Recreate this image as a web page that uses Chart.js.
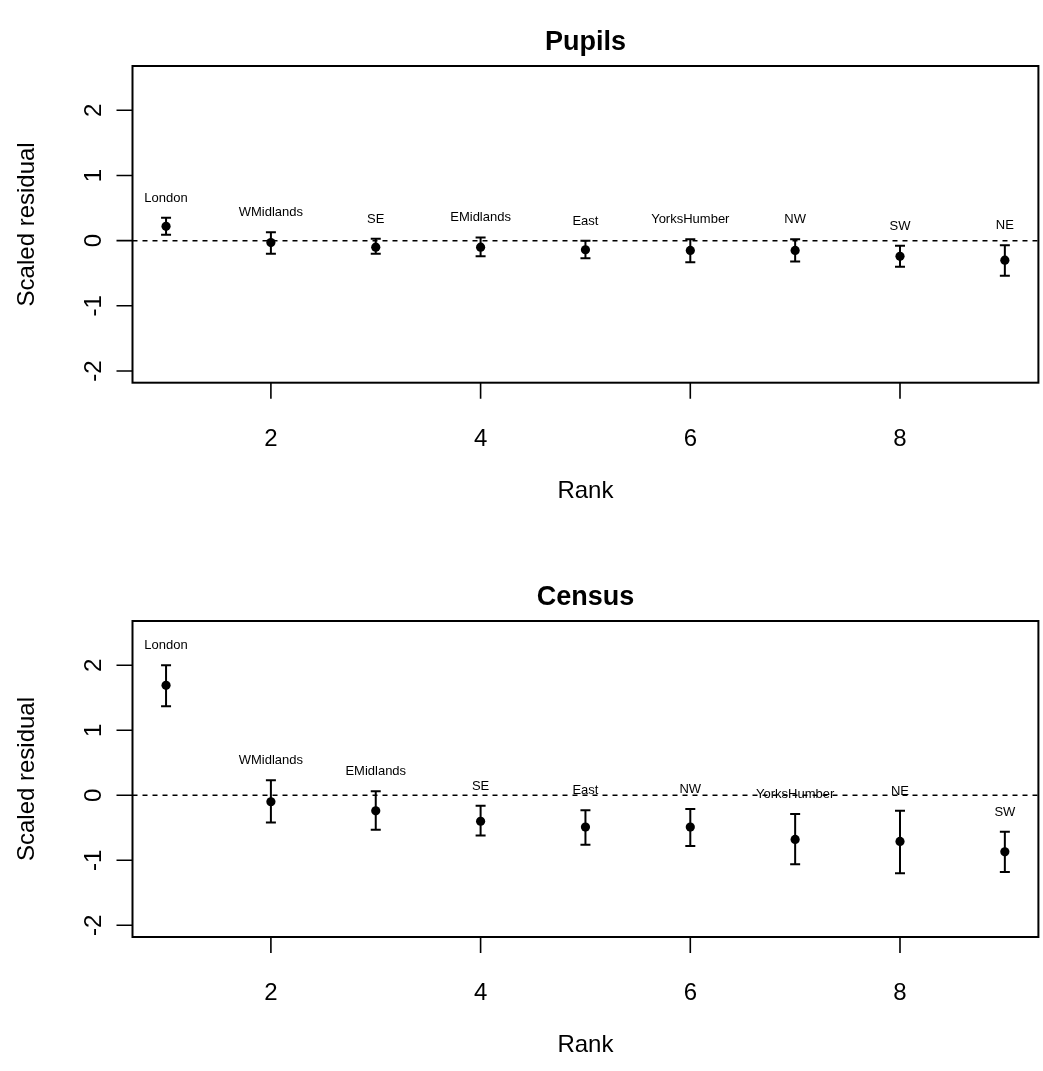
<!DOCTYPE html>
<html><head><meta charset="utf-8">
<script src="https://cdn.jsdelivr.net/npm/chart.js@4.4.1/dist/chart.umd.min.js"></script>
<style>
html,body{margin:0;padding:0;background:#fff;}
#wrap{position:relative;width:1043px;height:1071px;overflow:hidden;}
canvas{position:absolute;left:0;}
</style></head><body>
<div id="wrap">
<canvas id="c1" width="1043" height="536" style="top:0"></canvas>
<canvas id="c2" width="1043" height="535" style="top:536px"></canvas>
</div>
<script>
// ---- data ----
const rank = [1, 2, 3, 4, 5, 6, 7, 8, 9];

const pupilsRegions  = ['London', 'WMidlands', 'SE', 'EMidlands', 'East', 'YorksHumber', 'NW', 'SW', 'NE'];
const pupilsEstimate = [0.22, -0.03, -0.10, -0.10, -0.14, -0.15, -0.15, -0.24, -0.30];
const pupilsLower    = [0.09, -0.20, -0.20, -0.24, -0.27, -0.33, -0.32, -0.40, -0.54];
const pupilsUpper    = [0.35, 0.13, 0.03, 0.05, 0.00, 0.02, 0.02, -0.08, -0.07];

const censusRegions  = ['London', 'WMidlands', 'EMidlands', 'SE', 'East', 'NW', 'YorksHumber', 'NE', 'SW'];
const censusEstimate = [1.69, -0.10, -0.24, -0.40, -0.49, -0.49, -0.68, -0.71, -0.87];
const censusLower    = [1.37, -0.42, -0.53, -0.62, -0.76, -0.78, -1.06, -1.20, -1.18];
const censusUpper    = [2.00, 0.23, 0.06, -0.16, -0.23, -0.21, -0.29, -0.24, -0.56];

const xTicks = [2, 4, 6, 8];
const yTicks = [-2, -1, 0, 1, 2];
const xLimits = [1, 9];
const yLimits = [-2, 2.5];
const labelOffset = 0.3;

// R-style 4% axis expansion
function expand(l){ const d = (l[1]-l[0])*0.04; return [l[0]-d, l[1]+d]; }
const xRange = expand(xLimits);
const yRange = expand(yLimits);

const FONT = '"Liberation Sans", Arial, Helvetica, sans-serif';

const rPlot = {
  id: 'rPlot',
  beforeDatasetsDraw(chart, args, o){
    const {ctx, scales:{x, y}} = chart;
    ctx.save();
    ctx.strokeStyle = '#000'; ctx.lineWidth = 2;
    o.lower.forEach((lo, i) => {
      const px = x.getPixelForValue(rank[i]);
      const y1 = y.getPixelForValue(lo), y2 = y.getPixelForValue(o.upper[i]);
      ctx.beginPath();
      ctx.moveTo(px, y1); ctx.lineTo(px, y2);
      ctx.moveTo(px-5, y1); ctx.lineTo(px+5, y1);
      ctx.moveTo(px-5, y2); ctx.lineTo(px+5, y2);
      ctx.stroke();
    });
    ctx.restore();
  },
  afterDatasetsDraw(chart, args, o){
    const {ctx, chartArea:a, scales:{x, y}} = chart;
    ctx.save();
    ctx.fillStyle = '#000';
    // region labels
    ctx.font = '13px ' + FONT; ctx.textAlign = 'center'; ctx.textBaseline = 'middle';
    o.regions.forEach((r, i) => ctx.fillText(r, x.getPixelForValue(rank[i]), y.getPixelForValue(o.upper[i] + labelOffset)));
    // box
    ctx.strokeStyle = '#000'; ctx.lineWidth = 2;
    ctx.strokeRect(a.left, a.top, a.right - a.left, a.bottom - a.top);
    // tick marks
    ctx.beginPath();
    xTicks.forEach(v => { const p = x.getPixelForValue(v); ctx.moveTo(p, a.bottom); ctx.lineTo(p, a.bottom + 16); });
    yTicks.forEach(v => { const p = y.getPixelForValue(v); ctx.moveTo(a.left, p); ctx.lineTo(a.left - 16, p); });
    ctx.lineWidth = 1.6; ctx.stroke();
    // x tick labels & title
    ctx.font = '24px ' + FONT; ctx.textBaseline = 'alphabetic'; ctx.textAlign = 'center';
    xTicks.forEach(v => ctx.fillText(String(v), x.getPixelForValue(v), a.bottom + 63));
    ctx.fillText(o.xlabel, (a.left + a.right)/2, a.bottom + 115);
    // y tick labels (rotated) & title
    yTicks.forEach(v => { ctx.save(); ctx.translate(a.left - 32, y.getPixelForValue(v)); ctx.rotate(-Math.PI/2); ctx.fillText(String(v), 0, 0); ctx.restore(); });
    ctx.save(); ctx.translate(34, (a.top + a.bottom)/2); ctx.rotate(-Math.PI/2); ctx.fillText(o.ylabel, 0, 0); ctx.restore();
    // main title
    ctx.font = 'bold 27px ' + FONT;
    ctx.fillText(o.title, (a.left + a.right)/2, a.top - 16);
    ctx.restore();
  }
};

function makeChart(id, title, regions, est, lower, upper, pad){
  return new Chart(document.getElementById(id), {
    type: 'scatter',
    data: { datasets: [
      { type: 'line', data: [{x: xRange[0], y: 0}, {x: xRange[1], y: 0}], borderColor: '#000', borderWidth: 1.5,
        borderDash: [5, 5], pointRadius: 0, fill: false },
      { type: 'scatter', data: rank.map((r, i) => ({x: r, y: est[i]})), backgroundColor: '#000', borderColor: '#000',
        pointRadius: 4.6, pointHoverRadius: 4.6, borderWidth: 0 }
    ]},
    options: {
      responsive: false, animation: false, events: [],
      layout: { padding: pad },
      scales: {
        x: { type: 'linear', min: xRange[0], max: xRange[1], display: false },
        y: { type: 'linear', min: yRange[0], max: yRange[1], display: false }
      },
      plugins: {
        legend: { display: false }, tooltip: { enabled: false }, title: { display: false },
        rPlot: { title, regions, lower, upper, xlabel: 'Rank', ylabel: 'Scaled residual' }
      }
    },
    plugins: [rPlot]
  });
}

makeChart('c1', 'Pupils', pupilsRegions, pupilsEstimate, pupilsLower, pupilsUpper,
  { left: 132.5, right: 0.8, top: 66, bottom: 153.3 });
makeChart('c2', 'Census', censusRegions, censusEstimate, censusLower, censusUpper,
  { left: 132.5, right: 0.8, top: 85, bottom: 134 });
</script>
</body></html>
